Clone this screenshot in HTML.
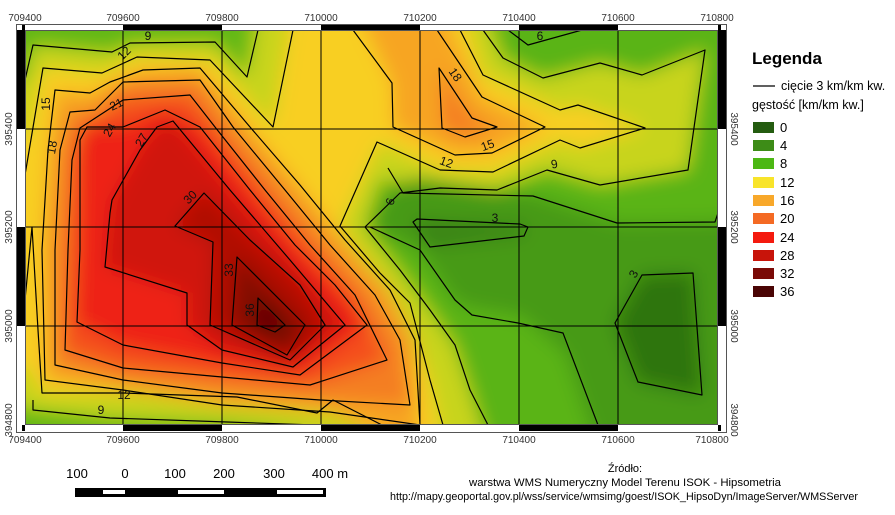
<!DOCTYPE html>
<html><head><meta charset="utf-8"><style>
html,body{margin:0;padding:0;background:#fff;}
svg{display:block;font-family:"Liberation Sans",sans-serif;}
</style></head><body>
<svg width="895" height="515" viewBox="0 0 895 515" xmlns="http://www.w3.org/2000/svg">
<defs>
<clipPath id="m"><rect x="25" y="30" width="693" height="395"/></clipPath>
<filter id="b" x="-5%" y="-5%" width="110%" height="110%"><feGaussianBlur stdDeviation="9"/></filter>
</defs>
<rect width="895" height="515" fill="#fff"/>
<g clip-path="url(#m)">
<g filter="url(#b)">
<rect x="0" y="0" width="760" height="450" fill="#f8cf22"/>
<polygon fill="#c8d41c" points="0,0 293,0 273,127 213,60 137,57 102,73 43,68 25,140 0,140"/>
<polygon fill="#62b814" points="0,0 258,0 247,77 215,42 130,43 112,52 33,45 25,80 0,80"/>
<polygon fill="#c8d41c" points="460,0 483,75 560,110 578,105 645,128 580,148 560,140 493,172 440,170 380,142 340,226 380,285 410,330 430,380 443,450 760,450 760,0"/>
<polygon fill="#5ab414" points="483,0 503,58 543,78 600,63 642,75 705,50 688,170 600,185 547,170 497,190 440,188 380,180 365,227 400,270 430,310 455,345 470,390 488,450 760,450 760,0"/>
<polygon fill="#469a14" points="395,185 420,178 533,196 617,223 715,222 760,213 760,450 598,450 565,353 520,315 470,307 455,300 420,250 370,227"/>
<polygon fill="#3a8412" points="413,222 417,219 520,224 528,227 524,236 430,247"/>
<polygon fill="#2f7410" points="642,275 693,273 702,395 638,382 615,323"/>
<polygon fill="#c8d41c" points="0,360 30,370 42,393 123,393 237,397 317,413 333,400 382,450 0,450"/>
<polygon fill="#62b814" points="0,400 33,410 110,418 227,422 315,428 0,450"/>
<polygon fill="#f7a524" points="353,0 392,83 393,127 455,155 492,153 545,127 482,97 437,0"/>
<polygon fill="#f47e24" points="439,68 442,128 465,137 497,127 472,118"/>
<polygon fill="#f7a524" points="55,90 90,93 110,82 143,70 200,68 250,127 300,185 345,240 390,290 415,340 420,450 330,412 222,405 123,390 45,380 42,250 48,150"/>
<polygon fill="#f47e24" points="70,112 95,110 123,82 200,80 233,127 285,190 330,245 375,295 400,340 410,405 320,400 222,393 123,380 55,365 55,250 60,150"/>
<polygon fill="#f4501c" points="80,128 123,100 190,95 215,127 265,190 310,245 355,295 387,360 310,385 222,377 123,368 65,350 68,250 72,160"/>
<polygon fill="#ee2412" points="87,127 123,127 165,110 200,127 250,190 295,245 335,285 367,325 300,375 222,363 123,345 77,322 80,250 80,140"/>
<polygon fill="#d0160a" points="157,127 173,121 230,190 290,260 345,325 293,367 222,350 187,325 187,293 105,267 110,213 112,200 140,150"/>
<polygon fill="#b00e06" points="175,226 204,193 250,240 300,285 325,325 290,360 210,325 213,242"/>
<polygon fill="#840804" points="237,257 232,325 287,355 305,325"/>
<polygon fill="#560403" points="258,298 257,325 275,332 285,325"/>
</g>
<g fill="none" stroke="#000" stroke-width="1.2" stroke-linejoin="round">
<polyline points="25,80 33,45 112,52 130,43 215,42 247,77 258,30"/>
<polyline points="25,175 43,68 102,73 137,57 210,60 273,127 293,30"/>
<polyline points="33,400 33,410 110,418 227,422 315,425"/>
<polyline points="25,300 32,227 38,330 42,393 123,393 237,397 317,413 333,400 382,425"/>
<polyline points="460,30 483,75 560,110 578,105 645,128 580,148 560,140 493,172 440,170 377,142 340,226 380,273 410,303 430,380 443,425"/>
<polyline points="483,30 503,58 543,78 600,63 642,75 705,50 688,170 600,185 547,170 497,190 440,188 400,193 365,227 400,270 430,310 455,345 470,390 488,425"/>
<polyline points="508,30 528,45 582,30"/>
<polyline points="388,168 403,193 533,196 617,223 715,222 718,213"/>
<polyline points="370,227 420,250 455,300 472,315 518,323 563,333 598,425"/>
<polygon points="413,222 417,219 520,224 528,227 524,236 430,247"/>
<polygon points="642,275 693,273 702,395 638,382 615,323"/>
<polyline points="353,30 392,83 393,127 455,155 492,153 545,127 482,97 437,30"/>
<polygon points="439,68 442,128 465,137 497,127 472,118"/>
<polygon points="55,90 90,93 110,82 143,70 200,68 250,127 300,185 345,240 390,290 415,340 420,425 330,412 222,405 123,390 45,380 42,250 48,150"/>
<polygon points="70,112 95,110 123,82 200,80 233,127 285,190 330,245 375,295 400,340 410,405 320,400 222,393 123,380 55,365 55,250 60,150"/>
<polygon points="80,128 123,100 190,95 215,127 265,190 310,245 355,295 387,360 310,385 222,377 123,368 65,350 68,250 72,160"/>
<polygon points="87,127 123,127 165,110 200,127 250,190 295,245 335,285 367,325 300,375 222,363 123,345 77,322 80,250 80,140"/>
<polygon points="157,127 173,121 230,190 290,260 345,325 293,367 222,350 187,325 187,293 105,267 110,213 112,200 140,150"/>
<polygon points="175,226 204,193 250,240 300,285 325,325 290,360 210,325 213,242"/>
<polygon points="237,257 232,325 287,355 305,325"/>
<polygon points="258,298 257,325 275,332 285,325"/>
</g>
<g font-size="12" fill="#111" text-anchor="middle">
<text x="148" y="40">9</text>
<text transform="translate(127,56) rotate(-45)">12</text>
<text transform="translate(50,104) rotate(-90)">15</text>
<text transform="translate(56,148) rotate(-80)">18</text>
<text transform="translate(118,108) rotate(-25)">21</text>
<text transform="translate(113,132) rotate(-60)">24</text>
<text transform="translate(145,142) rotate(-60)">27</text>
<text transform="translate(193,200) rotate(-45)">30</text>
<text transform="translate(233,270) rotate(-90)">33</text>
<text transform="translate(254,310) rotate(-90)">36</text>
<text transform="translate(394,203) rotate(-70)">6</text>
<text x="495" y="222">3</text>
<text transform="translate(445,166) rotate(20)">12</text>
<text transform="translate(489,149) rotate(-20)">15</text>
<text transform="translate(452,77) rotate(55)">18</text>
<text transform="translate(555,168) rotate(-10)">9</text>
<text x="540" y="40">6</text>
<text transform="translate(637,276) rotate(-60)">3</text>
<text x="124" y="399">12</text>
<text x="101" y="414">9</text>
</g>
<g stroke="#000" stroke-width="1">
<line x1="123" y1="30" x2="123" y2="425"/><line x1="222" y1="30" x2="222" y2="425"/>
<line x1="321" y1="30" x2="321" y2="425"/><line x1="420" y1="30" x2="420" y2="425"/>
<line x1="519" y1="30" x2="519" y2="425"/><line x1="618" y1="30" x2="618" y2="425"/>
<line x1="25" y1="129" x2="718" y2="129"/><line x1="25" y1="227" x2="718" y2="227"/>
<line x1="25" y1="326" x2="718" y2="326"/>
</g>
</g>
<rect x="16.5" y="24.5" width="710" height="408" fill="none" stroke="#555"/>
<rect x="25.5" y="30.5" width="692" height="394" fill="none" stroke="#555"/>
<g fill="#000">
<rect x="123" y="25" width="99" height="5"/><rect x="321" y="25" width="99" height="5"/><rect x="519" y="25" width="99" height="5"/>
<rect x="123" y="425" width="99" height="6"/><rect x="321" y="425" width="99" height="6"/><rect x="519" y="425" width="99" height="6"/>
<rect x="17" y="30" width="8" height="99"/><rect x="17" y="227" width="8" height="99"/>
<rect x="718" y="30" width="8" height="99"/><rect x="718" y="227" width="8" height="99"/>
<rect x="22" y="25" width="3" height="5"/><rect x="22" y="425" width="3" height="6"/>
<rect x="718" y="25" width="3" height="5"/><rect x="718" y="425" width="3" height="6"/>
</g>
<g font-size="10" fill="#333" text-anchor="middle">
<text x="25" y="21">709400</text><text x="123" y="21">709600</text><text x="222" y="21">709800</text>
<text x="321" y="21">710000</text><text x="420" y="21">710200</text><text x="519" y="21">710400</text>
<text x="618" y="21">710600</text><text x="717" y="21">710800</text>
<text x="25" y="443">709400</text><text x="123" y="443">709600</text><text x="222" y="443">709800</text>
<text x="321" y="443">710000</text><text x="420" y="443">710200</text><text x="519" y="443">710400</text>
<text x="618" y="443">710600</text><text x="712" y="443">710800</text>
<text transform="translate(12,129) rotate(-90)">395400</text>
<text transform="translate(12,227) rotate(-90)">395200</text>
<text transform="translate(12,326) rotate(-90)">395000</text>
<text transform="translate(12,420) rotate(-90)">394800</text>
<text transform="translate(731,129) rotate(90)">395400</text>
<text transform="translate(731,227) rotate(90)">395200</text>
<text transform="translate(731,326) rotate(90)">395000</text>
<text transform="translate(731,420) rotate(90)">394800</text>
</g>
<text x="752" y="64" font-size="17" font-weight="bold" fill="#000">Legenda</text>
<line x1="753" y1="86" x2="775" y2="86" stroke="#000" stroke-width="1.3"/>
<text x="781" y="90" font-size="12.5" fill="#000">cięcie 3 km/km kw.</text>
<text x="752" y="109" font-size="12.5" fill="#000">gęstość [km/km kw.]</text>
<g font-size="13" fill="#000">
<rect x="753" y="122" width="21" height="11" fill="#245c10"/><text x="780" y="132">0</text>
<rect x="753" y="140" width="21" height="11" fill="#3d8c17"/><text x="780" y="150">4</text>
<rect x="753" y="158" width="21" height="11" fill="#4cb814"/><text x="780" y="168">8</text>
<rect x="753" y="177" width="21" height="11" fill="#f8e42a"/><text x="780" y="187">12</text>
<rect x="753" y="195" width="21" height="11" fill="#f8a82a"/><text x="780" y="205">16</text>
<rect x="753" y="213" width="21" height="11" fill="#f46a24"/><text x="780" y="223">20</text>
<rect x="753" y="232" width="21" height="11" fill="#f41a0e"/><text x="780" y="242">24</text>
<rect x="753" y="250" width="21" height="11" fill="#c8140a"/><text x="780" y="260">28</text>
<rect x="753" y="268" width="21" height="11" fill="#7a0a06"/><text x="780" y="278">32</text>
<rect x="753" y="286" width="21" height="11" fill="#4a0404"/><text x="780" y="296">36</text>
</g>
<g font-size="13" fill="#000" text-anchor="middle">
<text x="77" y="478">100</text><text x="125" y="478">0</text><text x="175" y="478">100</text>
<text x="224" y="478">200</text><text x="274" y="478">300</text><text x="330" y="478">400 m</text>
</g>
<rect x="75" y="488" width="251" height="9" fill="#000"/>
<rect x="103" y="490" width="22" height="4" fill="#fff"/>
<rect x="178" y="490" width="46" height="4" fill="#fff"/>
<rect x="277" y="490" width="46" height="4" fill="#fff"/>
<g font-size="11" fill="#000" text-anchor="middle">
<text x="625" y="472">Źródło:</text>
<text x="625" y="486" textLength="312" lengthAdjust="spacingAndGlyphs">warstwa WMS Numeryczny Model Terenu ISOK - Hipsometria</text>
<text x="624" y="500" textLength="468" lengthAdjust="spacingAndGlyphs">http://mapy.geoportal.gov.pl/wss/service/wmsimg/goest/ISOK_HipsoDyn/ImageServer/WMSServer</text>
</g>
</svg>
</body></html>
